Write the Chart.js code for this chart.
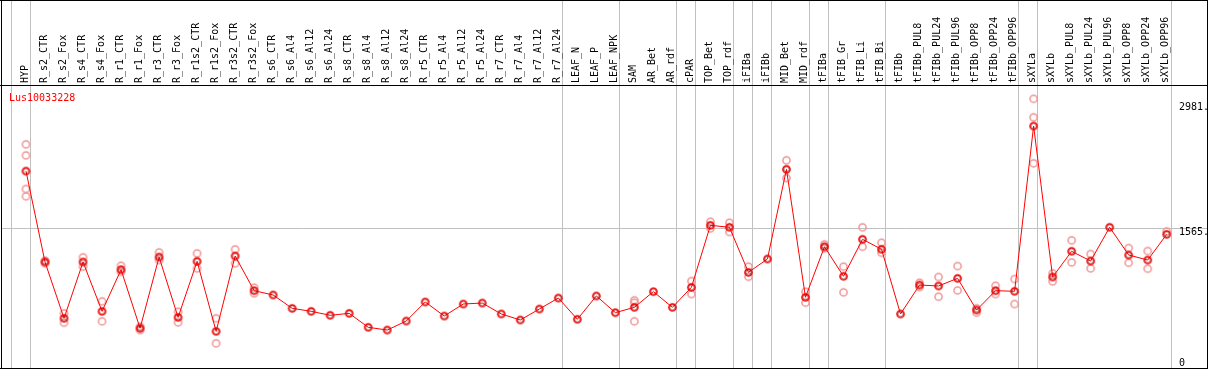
<!DOCTYPE html>
<html><head><meta charset="utf-8">
<script src="https://cdn.jsdelivr.net/npm/chart.js@4"></script>
<style>html,body{margin:0;padding:0;background:#fff;}#wrap{width:1209px;height:370px;}</style>
</head><body><div id="wrap"><canvas id="c" width="1209" height="370"></canvas></div>
<script>
const categories = ['HYP','R_s2_CTR','R_s2_Fox','R_s4_CTR','R_s4_Fox','R_r1_CTR','R_r1_Fox','R_r3_CTR','R_r3_Fox','R_r1s2_CTR','R_r1s2_Fox','R_r3s2_CTR','R_r3s2_Fox','R_s6_CTR','R_s6_Al4','R_s6_Al12','R_s6_Al24','R_s8_CTR','R_s8_Al4','R_s8_Al12','R_s8_Al24','R_r5_CTR','R_r5_Al4','R_r5_Al12','R_r5_Al24','R_r7_CTR','R_r7_Al4','R_r7_Al12','R_r7_Al24','LEAF_N','LEAF_P','LEAF_NPK','SAM','AR_Bet','AR_rdf','cPAR','TOP_Bet','TOP_rdf','iFIBa','iFIBb','MID_Bet','MID_rdf','tFIBa','tFIB_Gr','tFIB_Li','tFIB_Bi','tFIBb','tFIBb_PUL8','tFIBb_PUL24','tFIBb_PUL96','tFIBb_OPP8','tFIBb_OPP24','tFIBb_OPP96','sXYLa','sXYLb','sXYLb_PUL8','sXYLb_PUL24','sXYLb_PUL96','sXYLb_OPP8','sXYLb_OPP24','sXYLb_OPP96'];
const meanValues = [2214,1184,546,1184,625,1097,433,1240,557,1191,398,1252,859,810,659,625,580,602,444,413,515,731,572,708,719,595,527,651,776,535,799,610,670,848,670,897,1599,1577,1067,1218,2234,784,1357,1022,1441,1328,595,923,912,999,640,859,852,2724,1014,1305,1195,1577,1263,1206,1497];
const rep1 = [2517,1200,602,1237,738,1142,451,1293,621,1282,546,1327,893,null,null,null,null,null,null,null,null,null,null,null,null,null,null,null,null,null,null,null,750,null,null,968,1640,1629,1131,null,2336,848,1384,1131,1577,1402,null,949,1014,1138,660,915,991,3033,1056,1430,1274,null,1342,1308,1531];
const rep2 = [1928,1170,496,1131,512,1074,413,1206,500,1112,263,1169,829,null,null,null,null,null,null,null,null,null,null,null,null,null,null,null,null,null,null,null,512,null,null,821,1565,1524,1017,null,2135,723,1339,841,1357,1289,null,900,791,863,610,821,708,2302,965,1180,1112,null,1176,1108,null];
const rep3 = [2392,null,null,null,null,null,null,null,null,null,null,null,null,null,null,null,null,null,null,null,null,null,null,null,null,null,null,null,null,null,null,null,723,null,null,null,null,null,null,null,null,null,null,null,null,null,null,null,null,null,null,null,null,2823,null,null,null,null,null,null,null];
const rep4 = [2011,null,null,null,null,null,null,null,null,null,null,null,null,null,null,null,null,null,null,null,null,null,null,null,null,null,null,null,null,null,null,null,null,null,null,null,null,null,null,null,null,null,null,null,null,null,null,null,null,null,null,null,null,null,null,null,null,null,null,null,null];
const yTickValues = [0, 1565, 2981];
const yTickLabels = [['0',''], '1565.', '2981.'];
const separatorAfter = [-1, 0, 28, 31, 34, 35, 37, 38, 39, 41, 42, 45, 52, 53, 60];
const geneName = 'Lus10033228';

const MONO = "'DejaVu Sans Mono', 'Liberation Mono', monospace";

function ringMarker(outer, inner) {
  const c = document.createElement('canvas');
  c.width = 11; c.height = 11;
  const g = c.getContext('2d');
  g.lineWidth = 1.5; g.strokeStyle = outer;
  g.beginPath(); g.arc(5.5, 5.5, 3.6, 0, Math.PI * 2); g.stroke();
  if (inner) {
    g.lineWidth = 0.8; g.strokeStyle = inner;
    g.beginPath(); g.arc(5.5, 5.5, 2.6, 0, Math.PI * 2); g.stroke();
  }
  return c;
}
const meanMarker = ringMarker('#ff0000', 'rgba(110,0,0,0.7)');
const repMarker = ringMarker('#f09494', null);

const framePlugin = {
  id: 'frame',
  beforeDraw(chart) {
    const ctx = chart.ctx, xs = chart.scales.x, ys = chart.scales.y, ca = chart.chartArea;
    const step = xs.getPixelForValue(1) - xs.getPixelForValue(0);
    ctx.save();
    ctx.strokeStyle = '#c0c0c0';
    ctx.lineWidth = 1;
    ctx.beginPath();
    separatorAfter.forEach(k => {
      const x = Math.floor(xs.getPixelForValue(k) + step * 0.23) + 0.5;
      ctx.moveTo(x, 0); ctx.lineTo(x, ca.bottom);
    });
    const gy = Math.floor(ys.getPixelForValue(1565)) + 0.5;
    ctx.moveTo(1, gy); ctx.lineTo(1207, gy);
    ctx.stroke();
    ctx.restore();
  },
  afterDraw(chart) {
    const ctx = chart.ctx, ca = chart.chartArea;
    ctx.save();
    ctx.strokeStyle = '#000';
    ctx.lineWidth = 1;
    ctx.beginPath();
    ctx.moveTo(0, 0.5); ctx.lineTo(1208, 0.5);
    ctx.moveTo(0, Math.floor(ca.top) + 0.5); ctx.lineTo(1208, Math.floor(ca.top) + 0.5);
    ctx.moveTo(0, Math.floor(ca.bottom) + 0.5); ctx.lineTo(1208, Math.floor(ca.bottom) + 0.5);
    ctx.moveTo(1.5, 0); ctx.lineTo(1.5, Math.floor(ca.bottom) + 1);
    ctx.moveTo(1207.5, 0); ctx.lineTo(1207.5, Math.floor(ca.bottom) + 1);
    ctx.stroke();
    ctx.fillStyle = '#ff0000';
    ctx.font = '10px ' + MONO;
    ctx.textBaseline = 'alphabetic';
    ctx.textAlign = 'left';
    ctx.fillText(geneName, 9, ca.top + 16);
    ctx.restore();
  }
};

const repStyle = {
  showLine: false,
  pointStyle: repMarker,
  pointRadius: 4,
  borderColor: '#f09494'
};

new Chart(document.getElementById('c'), {
  type: 'line',
  data: {
    labels: categories,
    datasets: [
      { label: 'mean', data: meanValues, borderColor: '#ff0000', borderWidth: 1, pointStyle: meanMarker,
        pointRadius: 4, tension: 0 },
      Object.assign({ label: 'rep1', data: rep1 }, repStyle),
      Object.assign({ label: 'rep2', data: rep2 }, repStyle),
      Object.assign({ label: 'rep3', data: rep3 }, repStyle),
      Object.assign({ label: 'rep4', data: rep4 }, repStyle)
    ]
  },
  options: {
    responsive: false,
    devicePixelRatio: 1,
    animation: false,
    layout: { autoPadding: false, padding: { left: 26, right: 0, top: 0, bottom: 2 } },
    plugins: { legend: { display: false }, tooltip: { enabled: false }, title: { display: false } },
    scales: {
      x: {
        type: 'category',
        position: 'top',
        offset: false,
        grid: { display: false, drawTicks: false },
        border: { display: false },
        ticks: {
          autoSkip: false, minRotation: 90, maxRotation: 90, padding: 2,
          color: '#000', font: { family: MONO, size: 10, lineHeight: 0.1 }
        },
        afterFit(s) { s.height = 85; s.paddingLeft = 0; s.paddingRight = 0; }
      },
      y: {
        type: 'linear',
        position: 'right',
        min: -17, max: 3189,
        grid: { display: false, drawTicks: false },
        border: { display: false },
        afterBuildTicks(s) { s.ticks = yTickValues.map(v => ({ value: v })); },
        ticks: {
          padding: 12.3, labelOffset: 4, color: '#000',
          font: { family: MONO, size: 10, lineHeight: 1.5 },
          callback(v) { const i = yTickValues.indexOf(v); return i >= 0 ? yTickLabels[i] : ''; }
        },
        afterFit(s) { s.width = 42.3; s.paddingTop = 0; s.paddingBottom = 0; }
      }
    }
  },
  plugins: [framePlugin]
});
</script>
</body></html>
